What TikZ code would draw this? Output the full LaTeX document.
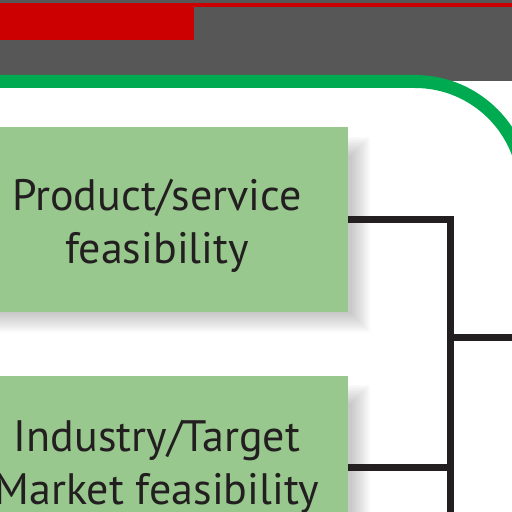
\documentclass[tikz,border=0pt]{standalone}
\usepackage{fontspec}
\setmainfont{PT Sans}
\usetikzlibrary{calc}
\definecolor{bandgray}{RGB}{87,87,87}
\definecolor{topred}{RGB}{204,0,0}
\definecolor{framegreen}{RGB}{0,170,80}
\definecolor{boxgreen}{RGB}{152,200,142}
\definecolor{inkblack}{RGB}{35,31,32}
\tikzset{
%Style for the two feasibility boxes
feasibility box/.style={fill=boxgreen, text=inkblack, align=center,
  font=\fontsize{22}{26.5}\selectfont, inner sep=0pt},
%Style for the connecting lines
connection/.style={draw=inkblack, line width=3.5pt},
%Style for the rounded frame
frame line/.style={draw=framegreen, line width=6.5pt, rounded corners=55pt},
}

\begin{document}
\begin{tikzpicture}[x=0.5pt, y=-0.5pt]
    \useasboundingbox (0,0) rectangle (512,512);
    \clip (0,0) rectangle (512,512);
    % Header band
    \fill[bandgray] (0,0) rectangle (512,81);
    \fill[topred] (0,3) rectangle (512,7);
    \fill[topred] (0,7) rectangle (194,40);
    % Rounded frame
    \draw[frame line] (-40,81.5) -| (525,700);

    % Soft shadows behind the boxes
    \foreach \i in {0,...,9}{
      \fill[black, opacity=0.025] (-30,137+2*\i) rectangle (370-2*\i,332-2*\i);
      \fill[black, opacity=0.025] (-30,385+2*\i) rectangle (370-2*\i,580-2*\i);
    }

    % The boxes
    \node[feasibility box, minimum width=191pt, minimum height=92.5pt]
      (prodbox) at (157,219.5) {\rule{0pt}{22pt}Product/service\\feasibility};
    \node[feasibility box, minimum width=191pt, minimum height=91pt]
      (indbox) at (157,467) {Industry/Target\\Market feasibility};

    % Let us define some coordinates
    \path
    coordinate (joint) at (450.5,337)
    coordinate (out) at (540,337)
    coordinate (bottom) at (450.5,540);

    % Draw the lines
    \draw[connection] (prodbox.east) -| (bottom);
    \draw[connection] (indbox.east) -- (indbox.east -| joint);
    \draw[connection] (joint) -- (out);
\end{tikzpicture}
\end{document}
